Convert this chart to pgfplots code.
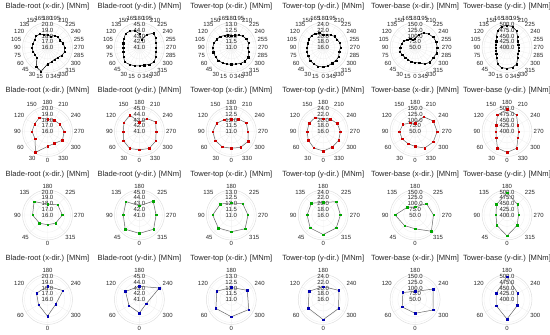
\documentclass[border=0pt]{standalone}
\usepackage{pgfplots}
\pgfplotsset{compat=1.18}
\usepgfplotslibrary{polar}
\usepackage{fontspec}
\setmainfont{Liberation Sans}
\pgfplotsset{
 base/.style={scale only axis, width=50bp, height=50bp, anchor=center, xmin=90, xmax=450, ymin=0,
   x filter/.expression={x<=180 ? 270-x : 630-x},
   ymajorgrids, xmajorgrids,
   major grid style={draw=gray!12, line width=0.4pt},
   axis line style={draw=gray!25, line width=0.5pt},
   tick style={draw=none},
   ticklabel style={font=\fontsize{6}{6}\selectfont, text=black!85},
   xticklabel style={inner sep=1.5bp},
   yticklabel style={anchor=center, inner sep=0pt},
   clip=false},
 r1/.style={xtick={90,105,...,435}, xticklabels={180,165,150,135,120,105,90,75,60,45,30,15,0,345,330,315,300,285,270,255,240,225,210,195}},
 r2/.style={xtick={90,120,...,420}, xticklabels={180,150,120,90,60,30,0,330,300,270,240,210}},
 r3/.style={xtick={90,135,...,405}, xticklabels={180,135,90,45,0,315,270,225}},
 r4/.style={xtick={90,150,...,390}, xticklabels={180,120,60,0,300,240}},
 c1/.style={y filter/.expression={y-16}, ymax=4.35, ytick={0,1,2,3,4}, yticklabels={16.0,17.0,18.0,19.0,20.0}},
 c2/.style={y filter/.expression={y-41}, ymax=4.35, ytick={0,1,2,3,4}, yticklabels={41.0,42.0,43.0,44.0,45.0}},
 c3/.style={y filter/.expression={y-11}, ymax=2.175, ytick={0,0.5,1,1.5,2}, yticklabels={11.0,11.5,12.0,12.5,13.0}},
 c4/.style={y filter/.expression={y-16}, ymax=8.7, ytick={0,2,4,6,8}, yticklabels={16.0,18.0,20.0,22.0,24.0}},
 c5/.style={y filter/.expression={y-50}, ymax=108.7, ytick={0,25,50,75,100}, yticklabels={50.0,75.0,100.0,125.0,150.0}},
 c6/.style={y filter/.expression={y-400}, ymax=108.7, ytick={0,25,50,75,100}, yticklabels={400.0,425.0,450.0,475.0,500.0}},
 l1/.style={black, line width=0.5pt, mark=square*, mark size=0.6pt},
 l2/.style={black!60, line width=0.5pt, mark=square*, mark size=0.75pt, mark options={draw=red!80!black, fill=red!80!black}},
 l3/.style={black!60, line width=0.5pt, mark=square*, mark size=0.75pt, mark options={draw=green!65!black, fill=green!65!black}},
 l4/.style={black!60, line width=0.5pt, mark=square*, mark size=0.75pt, mark options={draw=blue!70!black, fill=blue!70!black}},
}
\begin{document}
\begin{tikzpicture}[x=1bp,y=1bp]
\useasboundingbox (0,0) rectangle (550bp,335bp);
\tikzset{ttl/.style={font=\fontsize{7.6}{9}\selectfont, text=black!85}}
% titles
\foreach \yy in {328,244,160,76}{
\node[ttl] at (47.5bp,\yy bp) {Blade-root (x-dir.) [MNm]};
\node[ttl] at (139.4bp,\yy bp) {Blade-root (y-dir.) [MNm]};
\node[ttl] at (231.3bp,\yy bp) {Tower-top (x-dir.) [MNm]};
\node[ttl] at (323.2bp,\yy bp) {Tower-top (y-dir.) [MNm]};
\node[ttl] at (415.1bp,\yy bp) {Tower-base (x-dir.) [MNm]};
\node[ttl] at (507bp,\yy bp) {Tower-base (y-dir.) [MNm]};
}
% ---------- Row 1 (15 deg sectors) ----------
\begin{polaraxis}[base,r1,c1,at={(47.5bp,287.5bp)}]
\addplot[l1] coordinates {(0,18.9)(15,20.3)(30,19.9)(45,18.6)(60,18.5)(75,18.6)(90,18.7)(105,18.6)(120,18.6)(135,18.8)(150,18.7)(165,18.3)(180,18.2)(195,18.0)(210,18.4)(225,18.6)(240,18.5)(255,18.8)(270,19.0)(285,19.1)(300,18.8)(315,18.5)(330,18.4)(345,18.6)(360,18.9)};
\end{polaraxis}
\begin{polaraxis}[base,r1,c2,at={(139.4bp,287.5bp)}]
\addplot[l1] coordinates {(0,44.2)(15,44.3)(30,44.4)(45,44.6)(60,44.2)(75,43.9)(90,43.8)(105,43.9)(120,44.1)(135,44.4)(150,44.3)(165,44.0)(180,43.4)(195,42.4)(210,43.6)(225,44.5)(240,44.3)(255,44.0)(270,43.9)(285,44.0)(300,44.3)(315,44.6)(330,44.4)(345,44.2)(360,44.2)};
\end{polaraxis}
\begin{polaraxis}[base,r1,c3,at={(231.3bp,287.5bp)}]
\addplot[l1] coordinates {(0,12.45)(15,12.5)(30,12.55)(45,12.6)(60,12.6)(75,12.62)(90,12.62)(105,12.55)(120,12.45)(135,12.35)(150,12.2)(165,12.1)(180,12.05)(195,12.1)(210,12.25)(225,12.4)(240,12.5)(255,12.55)(270,12.45)(285,12.55)(300,12.7)(315,12.7)(330,12.6)(345,12.5)(360,12.45)};
\end{polaraxis}
\begin{polaraxis}[base,r1,c4,at={(323.2bp,287.5bp)}]
\addplot[l1] coordinates {(0,22.8)(15,22.8)(30,22.6)(45,22.4)(60,22.0)(75,21.8)(90,21.6)(105,21.6)(120,21.7)(135,21.8)(150,21.6)(165,21.2)(180,20.4)(195,20.6)(210,21.0)(225,21.5)(240,21.6)(255,22.0)(270,22.0)(285,21.8)(300,22.2)(315,22.4)(330,22.3)(345,22.6)(360,22.8)};
\end{polaraxis}
\begin{polaraxis}[base,r1,c5,at={(415.1bp,287.5bp)}]
\addplot[l1] coordinates {(0,115)(15,115)(30,111)(45,111)(60,115)(75,118)(90,115)(105,111)(120,107)(135,98)(150,93)(165,85)(180,89)(195,107)(210,124)(225,133)(240,141)(255,145)(270,146)(285,146)(300,141)(315,141)(330,133)(345,120)(360,115)};
\end{polaraxis}
\begin{polaraxis}[base,r1,c6,at={(507bp,287.5bp)}]
\addplot[l1] coordinates {(0,491)(15,491)(30,483)(45,463)(60,454)(75,449)(90,448)(105,450)(120,454)(135,465)(150,483)(165,494)(180,496)(195,494)(210,483)(225,465)(240,454)(255,451)(270,452)(285,452)(300,455)(315,465)(330,484)(345,490)(360,491)};
\end{polaraxis}
% ---------- Row 2 (30 deg sectors) ----------
\begin{polaraxis}[base,r2,c1,at={(47.5bp,203.5bp)}]
\addplot[l2] coordinates {(0,18.6)(30,20.2)(60,18.5)(90,18.7)(120,18.6)(150,18.8)(180,18.1)(210,18.3)(240,18.5)(270,18.9)(300,19.0)(330,18.4)(360,18.6)};
\end{polaraxis}
\begin{polaraxis}[base,r2,c2,at={(139.4bp,203.5bp)}]
\addplot[l2] coordinates {(0,44.2)(30,44.4)(60,44.2)(90,43.8)(120,44.1)(150,44.3)(180,42.6)(210,43.6)(240,44.3)(270,43.9)(300,44.3)(330,44.4)(360,44.2)};
\end{polaraxis}
\begin{polaraxis}[base,r2,c3,at={(231.3bp,203.5bp)}]
\addplot[l2] coordinates {(0,12.45)(30,12.55)(60,12.6)(90,12.62)(120,12.45)(150,12.2)(180,12.05)(210,12.25)(240,12.5)(270,12.45)(300,12.7)(330,12.6)(360,12.45)};
\end{polaraxis}
\begin{polaraxis}[base,r2,c4,at={(323.2bp,203.5bp)}]
\addplot[l2] coordinates {(0,22.8)(30,22.6)(60,22.0)(90,21.6)(120,21.7)(150,21.6)(180,20.4)(210,21.0)(240,21.6)(270,22.0)(300,22.2)(330,22.3)(360,22.8)};
\end{polaraxis}
\begin{polaraxis}[base,r2,c5,at={(415.1bp,203.5bp)}]
\addplot[l2] coordinates {(0,115)(30,111)(60,115)(90,118)(120,111)(150,93)(180,85)(210,124)(240,141)(270,146)(300,141)(330,133)(360,115)};
\end{polaraxis}
\begin{polaraxis}[base,r2,c6,at={(507bp,203.5bp)}]
\addplot[l2] coordinates {(0,491)(30,483)(60,454)(90,448)(120,454)(150,483)(180,496)(210,483)(240,454)(270,450)(300,455)(330,484)(360,491)};
\end{polaraxis}
% ---------- Row 3 (45 deg sectors) ----------
\begin{polaraxis}[base,r3,c1,at={(47.5bp,120bp)}]
\addplot[l3] coordinates {(0,17.7)(45,18.0)(90,18.6)(135,19.3)(180,17.9)(225,18.5)(270,18.6)(315,18.0)(360,17.7)};
\end{polaraxis}
\begin{polaraxis}[base,r3,c2,at={(139.4bp,120bp)}]
\addplot[l3] coordinates {(0,44.2)(45,44.5)(90,43.8)(135,44.3)(180,42.6)(225,44.4)(270,43.9)(315,44.5)(360,44.2)};
\end{polaraxis}
\begin{polaraxis}[base,r3,c3,at={(231.3bp,120bp)}]
\addplot[l3] coordinates {(0,12.45)(45,12.6)(90,12.62)(135,12.35)(180,12.05)(225,12.4)(270,12.45)(315,12.7)(360,12.45)};
\end{polaraxis}
\begin{polaraxis}[base,r3,c4,at={(323.2bp,120bp)}]
\addplot[l3] coordinates {(0,22.8)(45,22.4)(90,21.6)(135,21.8)(180,20.4)(225,22.5)(270,22.0)(315,22.4)(360,22.8)};
\end{polaraxis}
\begin{polaraxis}[base,r3,c5,at={(415.1bp,120bp)}]
\addplot[l3] coordinates {(0,110)(45,115)(90,137)(135,98)(180,85)(225,120)(270,130)(315,150)(360,110)};
\end{polaraxis}
\begin{polaraxis}[base,r3,c6,at={(507bp,120bp)}]
\addplot[l3] coordinates {(0,491)(45,463)(90,448)(135,465)(180,496)(225,465)(270,450)(315,463)(360,491)};
\end{polaraxis}
% ---------- Row 4 (60 deg sectors) ----------
\begin{polaraxis}[base,r4,c1,at={(47.5bp,35.5bp)}]
\addplot[l4] coordinates {(0,18.9)(60,17.8)(120,18.2)(180,18.3)(240,19.1)(300,17.65)(360,18.9)};
\end{polaraxis}
\begin{polaraxis}[base,r4,c2,at={(139.4bp,35.5bp)}]
\addplot[l4] coordinates {(0,43.35)(60,43.1)(120,43.8)(180,43.3)(240,45.0)(300,42.4)(360,43.35)};
\end{polaraxis}
\begin{polaraxis}[base,r4,c3,at={(231.3bp,35.5bp)}]
\addplot[l4] coordinates {(0,12.5)(60,12.55)(120,12.45)(180,12.05)(240,12.6)(300,12.75)(360,12.5)};
\end{polaraxis}
\begin{polaraxis}[base,r4,c4,at={(323.2bp,35.5bp)}]
\addplot[l4] coordinates {(0,23.0)(60,22.0)(120,21.7)(180,20.5)(240,22.3)(300,22.2)(360,23.0)};
\end{polaraxis}
\begin{polaraxis}[base,r4,c5,at={(415.1bp,35.5bp)}]
\addplot[l4] coordinates {(0,110)(60,115)(120,111)(180,85)(240,141)(300,141)(360,110)};
\end{polaraxis}
\begin{polaraxis}[base,r4,c6,at={(507bp,35.5bp)}]
\addplot[l4] coordinates {(0,485)(60,454)(120,454)(180,500)(240,454)(300,452)(360,485)};
\end{polaraxis}
\end{tikzpicture}
\end{document}
